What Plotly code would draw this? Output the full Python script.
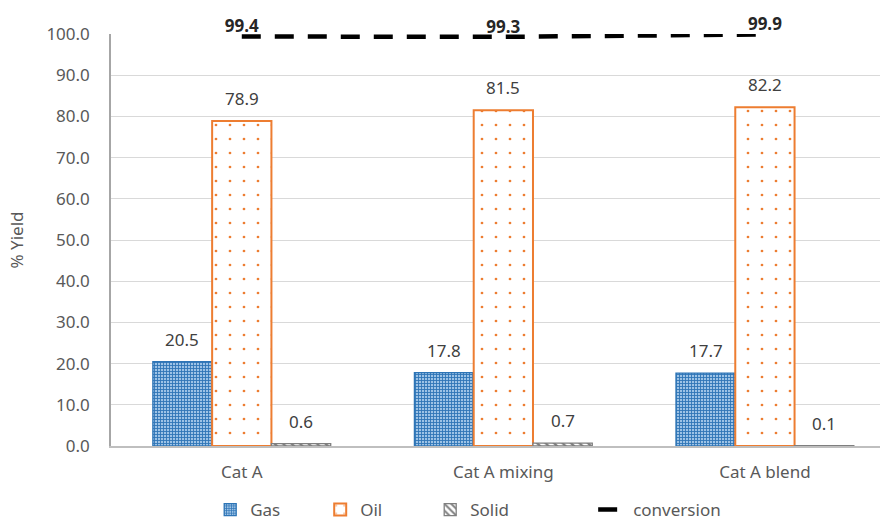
import plotly.graph_objects as go

categories = ["Cat A", "Cat A mixing", "Cat A blend"]
gas = [20.5, 17.8, 17.7]
oil = [78.9, 81.5, 82.2]
solid = [0.6, 0.7, 0.1]
conversion = [99.4, 99.3, 99.9]
y_ticks = [0, 10, 20, 30, 40, 50, 60, 70, 80, 90, 100]

FONT = "Noto Sans"
TXT = "#404040"
AX = "#595959"
FS = 17
BARGAP = 0.32
idx = list(range(len(categories)))

fig = go.Figure()

fig.add_trace(go.Bar(
    name="Gas", x=idx, y=gas, legend="legend",
    marker=dict(color="#FFFFFF",
                line=dict(color="#2E75B6", width=1.3),
                pattern=dict(shape="+", size=3, solidity=0.5,
                             fgcolor="#2E75B6", bgcolor="#9DC3E6",
                             fillmode="replace")),
))
fig.add_trace(go.Bar(
    name="Oil", x=idx, y=oil, legend="legend",
    marker=dict(color="#FFFFFF",
                line=dict(color="#ED7D31", width=2),
                pattern=dict(shape=".", size=14, solidity=0.03,
                             fgcolor="#ED7D31", bgcolor="#FFFFFF",
                             fillmode="replace")),
))
fig.add_trace(go.Bar(
    name="Solid", x=idx, y=solid, legend="legend",
    marker=dict(color="#FFFFFF",
                line=dict(color="#7F7F7F", width=1.3),
                pattern=dict(shape="\\", size=6, solidity=0.4,
                             fgcolor="#7F7F7F", bgcolor="#FFFFFF",
                             fillmode="replace")),
))
fig.add_trace(go.Scatter(
    name="conversion", x=idx, y=conversion, mode="lines+text",
    legend="legend2",
    line=dict(color="#000000", width=4.5, dash="19px,14px"),
    text=[f"{v:.1f}" for v in conversion], textposition="top center",
    textfont=dict(family=FONT, size=FS, color="#262626", weight="bold"),
    cliponaxis=False,
))

# value labels above each bar
w = (1 - BARGAP) / 3
for k, series in enumerate([gas, oil, solid]):
    for i, v in enumerate(series):
        fig.add_annotation(x=i + (k - 1) * w, y=v, text=f"{v:.1f}",
                           showarrow=False, yanchor="bottom", yshift=9,
                           font=dict(family=FONT, size=FS, color=TXT))

legend_common = dict(orientation="h", yanchor="bottom", y=-0.199,
                     font=dict(size=FS, color=AX))

fig.update_layout(
    width=880, height=528,
    margin=dict(l=111, r=0, t=34, b=82),
    paper_bgcolor="white", plot_bgcolor="white",
    barmode="group", bargap=BARGAP, bargroupgap=0,
    font=dict(family=FONT, size=FS, color=AX),
    showlegend=True,
    legend=dict(x=0.129, xanchor="left", entrywidth=65,
                entrywidthmode="pixels", **legend_common),
    legend2=dict(x=0.627, xanchor="left", **legend_common),
)
fig.update_xaxes(
    range=[-0.5, 2.44], tickvals=idx, ticktext=categories,
    showgrid=False, showline=True, linecolor="#BFBFBF", linewidth=1.5,
    ticks="", ticklabelstandoff=10, tickfont=dict(size=FS, color=AX),
)
fig.update_yaxes(
    range=[0, 100], tickvals=y_ticks,
    ticktext=[f"{t:.1f}" for t in y_ticks],
    showgrid=True, gridcolor="#D9D9D9", gridwidth=1.2,
    showline=True, linecolor="#A6A6A6", linewidth=1.5,
    zeroline=False, ticks="", ticklabelstandoff=16,
    title=dict(text="% Yield", font=dict(size=FS, color=AX), standoff=18),
    tickfont=dict(size=FS, color=AX),
)

fig.write_html("out.html")
